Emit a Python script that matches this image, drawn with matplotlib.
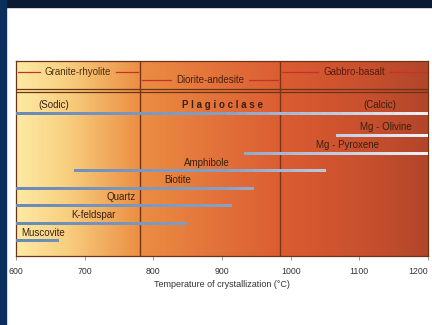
import numpy as np
import matplotlib
matplotlib.use("Agg")
import matplotlib.pyplot as plt
from matplotlib.colors import LinearSegmentedColormap
from matplotlib.collections import LineCollection
from matplotlib.patches import Rectangle

plt.rcParams['font.family'] = ['Liberation Sans', 'DejaVu Sans']

# rock groups along the temperature axis
rock_names = ['Granite-rhyolite', 'Diorite-andesite', 'Gabbro-basalt']
rock_start = [600, 780, 985]
rock_end = [780, 985, 1200]

# minerals (top to bottom), crystallization ranges in degC
minerals = ['Mg - Olivine', 'Mg - Pyroxene', 'Amphibole', 'Biotite',
            'Quartz', 'K-feldspar', 'Muscovite']
min_start = [1067, 933, 686, 600, 600, 600, 600]
min_end = [1200, 1200, 1048, 944, 912, 846, 659]
min_label_x = [1139, 1083, 878, 835, 753, 713, 639]

plag_range = [600, 1200]
plag_labels = ['(Sodic)', 'P l a g i o c l a s e', '(Calcic)']
plag_label_x = [655, 900, 1130]

xticks = [600, 700, 800, 900, 1000, 1100, 1200]

fig = plt.figure(figsize=(4.32, 3.25), dpi=100, facecolor='white')
# dark frame pieces of the slide
fig.patches.append(Rectangle((0, 1 - 7 / 325), 1, 7 / 325, transform=fig.transFigure,
                             color='#0b1a33', zorder=0))
fig.patches.append(Rectangle((0, 0), 6 / 432, 1, transform=fig.transFigure,
                             color='#0b2f5c', zorder=0))

ax = fig.add_axes([16 / 432, 1 - 256 / 325, 412 / 432, 195 / 325])
ax.set_xlim(600, 1200)
ax.set_ylim(256, 61)

bg = LinearSegmentedColormap.from_list('bg', [
    (0.0, '#fdeaa2'), (0.12, '#f8cf80'), (0.3, '#eb8e42'),
    (0.5, '#e2703a'), (0.65, '#db5c31'), (0.85, '#c8502e'), (1.0, '#b2462a')])
ax.imshow(np.linspace(0, 1, 300)[None, :], cmap=bg, aspect='auto',
          extent=[600, 1200, 256, 61], zorder=0)

# header separators and group boundaries
for yy in [88.5, 91.5]:
    ax.axhline(yy, color='#6a3418', lw=0.9, zorder=2)
for xb in rock_start[1:]:
    ax.axvline(xb, color='#7a3416', lw=1.0, zorder=2)

# header labels with red dashes either side
fig.canvas.draw()
r = fig.canvas.get_renderer()
inv = ax.transData.inverted()
header_y = [72, 80, 72]
header_col = ['#4a3010', '#4a2010', '#5a1a10']
for name, s, e, hy, hc in zip(rock_names, rock_start, rock_end, header_y, header_col):
    t = ax.text((s + e) / 2, hy, name, ha='center', va='center', fontsize=7,
                color=hc, zorder=4)
    bb = t.get_window_extent(renderer=r)
    x0 = inv.transform((bb.x0 - 5, 0))[0]
    x1 = inv.transform((bb.x1 + 5, 0))[0]
    ax.plot([s + 3, x0], [hy, hy], color='#c8302a', lw=0.9, zorder=3)
    ax.plot([x1, e - 3], [hy, hy], color='#c8302a', lw=0.9, zorder=3)

line_cmap = LinearSegmentedColormap.from_list('ln', ['#6a8bb6', '#86a0c4', '#f2f2f6'])


def range_line(x0, x1, y):
    xs = np.linspace(x0, x1, 40)
    pts = np.array([xs, np.full_like(xs, y)]).T.reshape(-1, 1, 2)
    segs = np.concatenate([pts[:-1], pts[1:]], axis=1)
    lc = LineCollection(segs, cmap=line_cmap, linewidth=1.8, zorder=3,
                        capstyle='projecting', antialiaseds=False)
    lc.set_array((xs[:-1] - 600) / 600)
    lc.set_clim(0, 1)
    ax.add_collection(lc)


# plagioclase row
plag_y = 113
range_line(plag_range[0], plag_range[1], plag_y)
for lab, lx in zip(plag_labels, plag_label_x):
    ax.text(lx, plag_y - 8, lab, ha='center', va='center', fontsize=7,
            color='#3a2010', fontweight='bold' if lab.startswith('P') else 'normal',
            zorder=4)

# other minerals
for i, (m, s, e, lx) in enumerate(zip(minerals, min_start, min_end, min_label_x)):
    y = 135 + 17.5 * i
    range_line(s, e, y)
    ax.text(lx, y - 7.5, m, ha='center', va='center', fontsize=7,
            color='#3a2010', zorder=4)

ax.set_yticks([])
ax.set_xticks(xticks)
ax.tick_params(axis='x', direction='out', length=3, width=0.6, color='#888888',
               labelsize=6.3, labelcolor='#333333', pad=5)
ax.get_xticklabels()[-1].set_horizontalalignment('right')
for sp in ax.spines.values():
    sp.set_color('#6a3418')
    sp.set_linewidth(0.9)
ax.set_xlabel('Temperature of crystallization (°C)', fontsize=6.5, color='#333333',
              labelpad=3)

fig.savefig('out.png', dpi=100, facecolor='white')
